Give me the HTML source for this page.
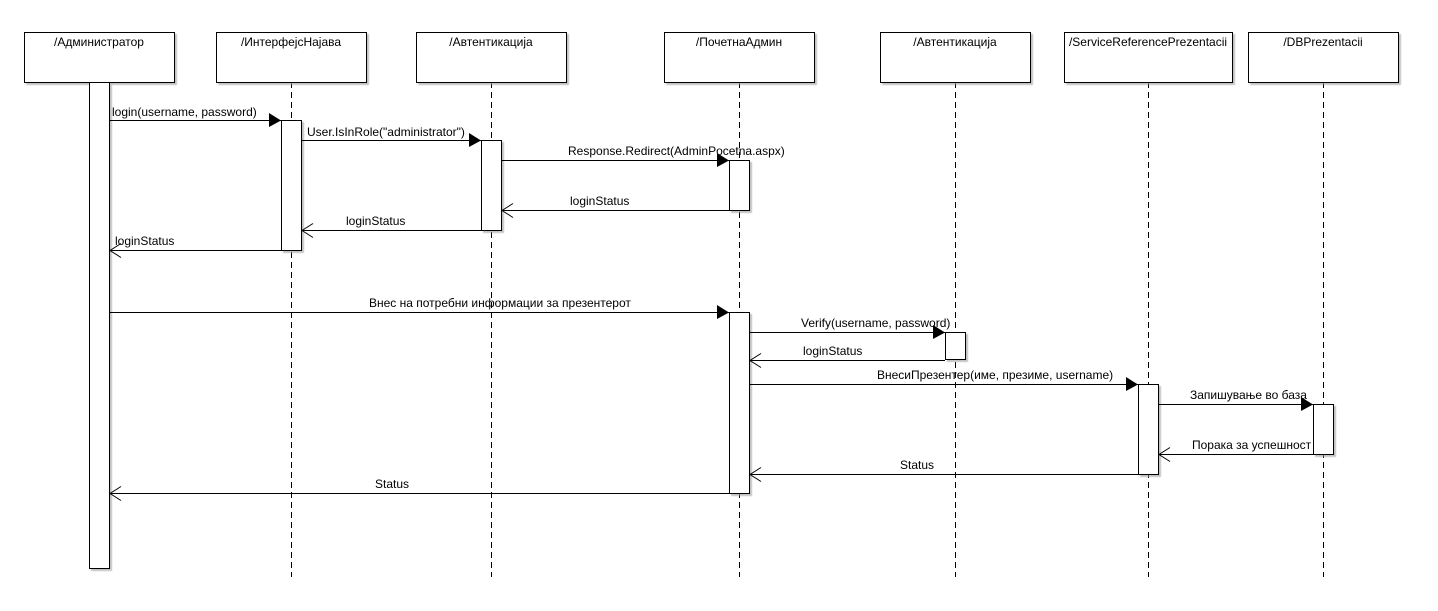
<!DOCTYPE html>
<html><head><meta charset="utf-8"><style>
html,body{margin:0;padding:0;background:#fff;width:1438px;height:611px;overflow:hidden}
svg text{font-family:"Liberation Sans","DejaVu Sans",sans-serif;font-size:12px;fill:#000}
</style></head><body>
<svg width="1438" height="611" xmlns="http://www.w3.org/2000/svg">
<defs><filter id="s" x="-5%" y="-5%" width="115%" height="120%"><feDropShadow dx="2" dy="2" stdDeviation="0.6" flood-color="#999" flood-opacity="0.6"/></filter></defs>
<g stroke="#000" stroke-width="1" stroke-dasharray="6,4" fill="none">
<line x1="291.5" y1="82" x2="291.5" y2="577"/>
<line x1="491.5" y1="82" x2="491.5" y2="577"/>
<line x1="739.5" y1="82" x2="739.5" y2="577"/>
<line x1="955.5" y1="82" x2="955.5" y2="577"/>
<line x1="1148.5" y1="82" x2="1148.5" y2="577"/>
<line x1="1323.5" y1="82" x2="1323.5" y2="577"/>
</g>
<g fill="#fff" stroke="#000" filter="url(#s)">
<rect x="24.5" y="32.5" width="150" height="50"/>
<rect x="216.5" y="32.5" width="150" height="50"/>
<rect x="416.5" y="32.5" width="150" height="50"/>
<rect x="664.5" y="32.5" width="150" height="50"/>
<rect x="880.5" y="32.5" width="150" height="50"/>
<rect x="1064.5" y="32.5" width="168" height="50"/>
<rect x="1248.5" y="32.5" width="150" height="50"/>
<rect x="89.5" y="82.5" width="20" height="486"/>
<rect x="281.5" y="120.5" width="20" height="130"/>
<rect x="481.5" y="140.5" width="20" height="90"/>
<rect x="729.5" y="160.5" width="20" height="50"/>
<rect x="729.5" y="312.5" width="20" height="181"/>
<rect x="945.5" y="332.5" width="20" height="27"/>
<rect x="1138.5" y="384.5" width="20" height="90"/>
<rect x="1313.5" y="404.5" width="20" height="50"/>
</g>
<g text-anchor="middle">
<text x="99" y="46">/Администратор</text>
<text x="291" y="46">/ИнтерфејсНајава</text>
<text x="491" y="46">/Автентикација</text>
<text x="739" y="46">/ПочетнаАдмин</text>
<text x="955" y="46">/Автентикација</text>
<text x="1148" y="46">/ServiceReferencePrezentacii</text>
<text x="1323" y="46">/DBPrezentacii</text>
</g>
<g stroke="#000" stroke-width="1">
<line x1="110" y1="120.5" x2="281" y2="120.5"/>
<line x1="302" y1="140.5" x2="481" y2="140.5"/>
<line x1="502" y1="160.5" x2="729" y2="160.5"/>
<line x1="502" y1="210.5" x2="729" y2="210.5"/>
<line x1="302" y1="230.5" x2="481" y2="230.5"/>
<line x1="110" y1="250.5" x2="281" y2="250.5"/>
<line x1="110" y1="312.5" x2="729" y2="312.5"/>
<line x1="750" y1="332.5" x2="945" y2="332.5"/>
<line x1="750" y1="360.5" x2="945" y2="360.5"/>
<line x1="750" y1="384.5" x2="1138" y2="384.5"/>
<line x1="1159" y1="404.5" x2="1313" y2="404.5"/>
<line x1="1159" y1="454.5" x2="1313" y2="454.5"/>
<line x1="750" y1="474.5" x2="1138" y2="474.5"/>
<line x1="110" y1="493.5" x2="729" y2="493.5"/>
</g>
<g fill="#000">
<polygon points="269,113 281,120.5 269,127"/>
<polygon points="469,133 481,140.5 469,147"/>
<polygon points="717,153 729,160.5 717,167"/>
<polygon points="717,305 729,312.5 717,319"/>
<polygon points="933,325 945,332.5 933,339"/>
<polygon points="1126,377 1138,384.5 1126,391"/>
<polygon points="1301,397 1313,404.5 1301,411"/>
</g>
<g stroke="#000" fill="none">
<polyline points="513,203.5 502,210.5 513,217.5"/>
<polyline points="313,223.5 302,230.5 313,237.5"/>
<polyline points="121,243.5 110,250.5 121,257.5"/>
<polyline points="761,353.5 750,360.5 761,367.5"/>
<polyline points="1170,447.5 1159,454.5 1170,461.5"/>
<polyline points="761,467.5 750,474.5 761,481.5"/>
<polyline points="121,486.5 110,493.5 121,500.5"/>
</g>
<text x="112" y="116">login(username, password)</text>
<text x="307" y="136">User.IsInRole("administrator")</text>
<text x="568" y="155">Response.Redirect(AdminPocetna.aspx)</text>
<text x="570" y="205">loginStatus</text>
<text x="346" y="225">loginStatus</text>
<text x="115" y="245">loginStatus</text>
<text x="369" y="307">Внес на потребни информации за презентерот</text>
<text x="801" y="327">Verify(username, password)</text>
<text x="803" y="355">loginStatus</text>
<text x="877" y="379">ВнесиПрезентер(име, презиме, username)</text>
<text x="1190" y="399">Запишување во база</text>
<text x="1192" y="449">Порака за успешност</text>
<text x="900" y="469">Status</text>
<text x="375" y="488">Status</text>
</svg>
</body></html>
